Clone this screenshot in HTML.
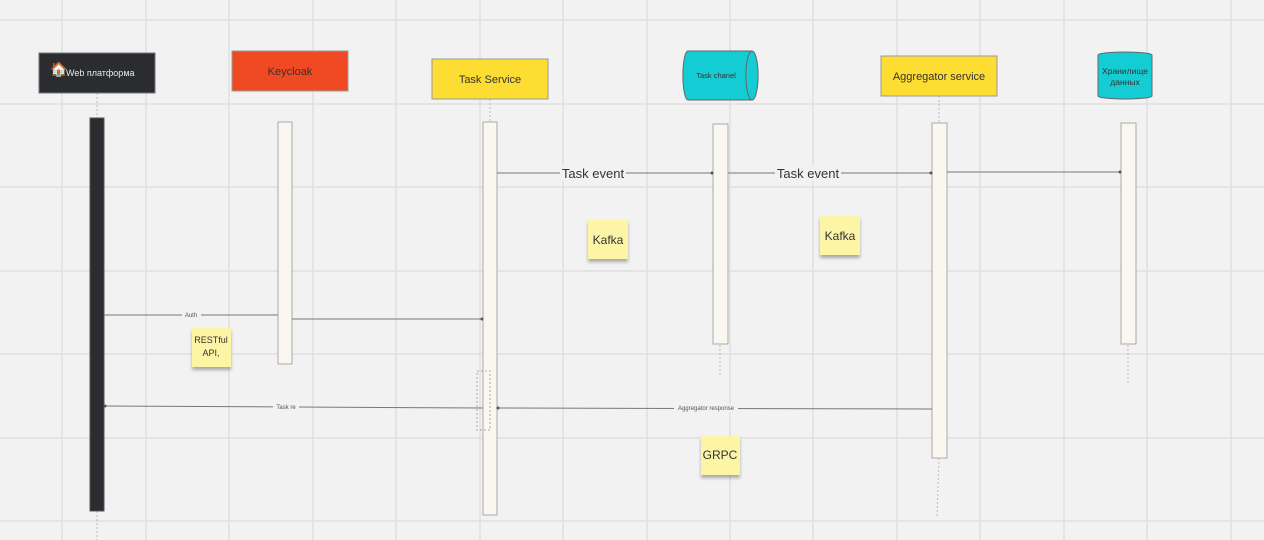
<!DOCTYPE html>
<html><head><meta charset="utf-8"><style>
body{margin:0;background:#f2f2f2;}
svg{display:block;font-family:"Liberation Sans","DejaVu Sans",sans-serif;}
</style></head><body>
<svg width="1264" height="540" viewBox="0 0 1264 540" xmlns="http://www.w3.org/2000/svg">
<defs><filter id="sh" x="-20%" y="-20%" width="140%" height="150%"><feDropShadow dx="0" dy="3" stdDeviation="1.5" flood-color="#000" flood-opacity="0.3"/></filter></defs>
<rect width="1264" height="540" fill="#f2f2f2"/>
<g stroke="#e0e0e0" stroke-width="1.5">
<line x1="62" y1="0" x2="62" y2="540"/><line x1="146" y1="0" x2="146" y2="540"/><line x1="229" y1="0" x2="229" y2="540"/><line x1="313" y1="0" x2="313" y2="540"/><line x1="396" y1="0" x2="396" y2="540"/><line x1="480" y1="0" x2="480" y2="540"/><line x1="563" y1="0" x2="563" y2="540"/><line x1="647" y1="0" x2="647" y2="540"/><line x1="730" y1="0" x2="730" y2="540"/><line x1="813" y1="0" x2="813" y2="540"/><line x1="897" y1="0" x2="897" y2="540"/><line x1="980" y1="0" x2="980" y2="540"/><line x1="1064" y1="0" x2="1064" y2="540"/><line x1="1147" y1="0" x2="1147" y2="540"/><line x1="1231" y1="0" x2="1231" y2="540"/>
<line x1="0" y1="20" x2="1264" y2="20"/><line x1="0" y1="104" x2="1264" y2="104"/><line x1="0" y1="187" x2="1264" y2="187"/><line x1="0" y1="271" x2="1264" y2="271"/><line x1="0" y1="354" x2="1264" y2="354"/><line x1="0" y1="438" x2="1264" y2="438"/><line x1="0" y1="521" x2="1264" y2="521"/>
</g>
<g stroke="#bbb" stroke-dasharray="2,2" stroke-width="1">
<line x1="97" y1="93" x2="97" y2="118"/><line x1="97" y1="511" x2="97" y2="540"/>
<line x1="490" y1="99" x2="490" y2="122"/><line x1="939" y1="96" x2="939" y2="123"/><line x1="939" y1="458" x2="937" y2="516"/>
<line x1="720" y1="345" x2="720" y2="375"/><line x1="1128" y1="345" x2="1128" y2="385"/>
</g>
<rect x="39" y="53" width="116" height="40" fill="#2b2c30" stroke="#777"/>
<text x="50" y="74" font-size="14">🏠</text>
<text x="66" y="76" font-size="9" fill="#e8e8e8">Web платформа</text>
<rect x="232" y="51" width="116" height="40" fill="#f04a24" stroke="#999"/>
<text x="290" y="75" font-size="11" fill="#333" text-anchor="middle">Keycloak</text>
<rect x="432" y="59" width="116" height="40" fill="#fedd33" stroke="#999"/>
<text x="490" y="83" font-size="11" fill="#333" text-anchor="middle">Task Service</text>
<path d="M688 51 H752 A6 24 0 0 1 752 100 H688 A5 24 0 0 1 688 51 Z" fill="#14ccd4" stroke="#666"/>
<path d="M752 51 A6 24 0 0 0 752 100" fill="none" stroke="#666"/>
<text x="716" y="78" font-size="7.5" fill="#333" text-anchor="middle">Task chanel</text>
<rect x="881" y="56" width="116" height="40" fill="#fedd33" stroke="#999"/>
<text x="939" y="80" font-size="11" fill="#333" text-anchor="middle">Aggregator service</text>
<path d="M1098 55 A27 3 0 0 1 1152 55 V96 A27 3 0 0 1 1098 96 Z" fill="#14ccd4" stroke="#666"/>
<text x="1125" y="74" font-size="8.5" fill="#333" text-anchor="middle">Хранилище</text>
<text x="1125" y="85" font-size="8.5" fill="#333" text-anchor="middle">данных</text>
<rect x="90" y="118" width="14" height="393" fill="#2b2c30" stroke="#555"/>
<g fill="#faf7f0" stroke="#aaa">
<rect x="278" y="122" width="14" height="242"/>
<rect x="483" y="122" width="14" height="393"/>
<rect x="713" y="124" width="15" height="220"/>
<rect x="932" y="123" width="15" height="335"/>
<rect x="1121" y="123" width="15" height="221"/>
</g>
<rect x="477" y="371" width="13" height="59" fill="none" stroke="#aaa" stroke-dasharray="2,2"/>
<g stroke="#777" stroke-width="1" fill="none">
<line x1="104" y1="315" x2="278" y2="315"/>
<line x1="292" y1="319" x2="483" y2="319"/>
<line x1="497" y1="173" x2="713" y2="173"/>
<line x1="728" y1="173" x2="932" y2="173"/>
<line x1="947" y1="172" x2="1121" y2="172"/>
<line x1="932" y1="409" x2="497" y2="408"/>
<line x1="483" y1="408" x2="104" y2="406"/>
</g>
<g fill="#555">
<circle cx="482" cy="319" r="1.5"/><circle cx="712" cy="173" r="1.5"/><circle cx="931" cy="173" r="1.5"/><circle cx="1120" cy="172" r="1.5"/><circle cx="498" cy="408" r="1.5"/><circle cx="105" cy="406" r="1.5"/>
</g>
<g font-size="6" fill="#555" text-anchor="middle">
<rect x="182" y="311" width="19" height="8" fill="#f2f2f2"/><text x="191" y="317">Auth</text>
<rect x="273" y="403" width="26" height="8" fill="#f2f2f2"/><text x="286" y="409">Task re</text>
<rect x="674" y="404" width="64" height="8" fill="#f2f2f2"/><text x="706" y="410" fill="#555">Aggregator response</text>
</g>
<rect x="560" y="165" width="66" height="16" fill="#f2f2f2"/>
<text x="593" y="178" font-size="13" fill="#333" text-anchor="middle">Task event</text>
<rect x="775" y="165" width="66" height="16" fill="#f2f2f2"/>
<text x="808" y="178" font-size="13" fill="#333" text-anchor="middle">Task event</text>
<g fill="#fdf5a6" filter="url(#sh)">
<rect x="588" y="220" width="40" height="39"/>
<rect x="820" y="216" width="40" height="39"/>
<rect x="192" y="328" width="39" height="39"/>
<rect x="701" y="436" width="39" height="39"/>
</g>
<g font-size="12" fill="#333" text-anchor="middle">
<text x="608" y="244">Kafka</text>
<text x="840" y="240">Kafka</text>
<text x="720" y="459">GRPC</text>
<text x="211" y="343" font-size="9">RESTful</text>
<text x="211" y="356" font-size="9">API,</text>
</g>
</svg>
</body></html>
